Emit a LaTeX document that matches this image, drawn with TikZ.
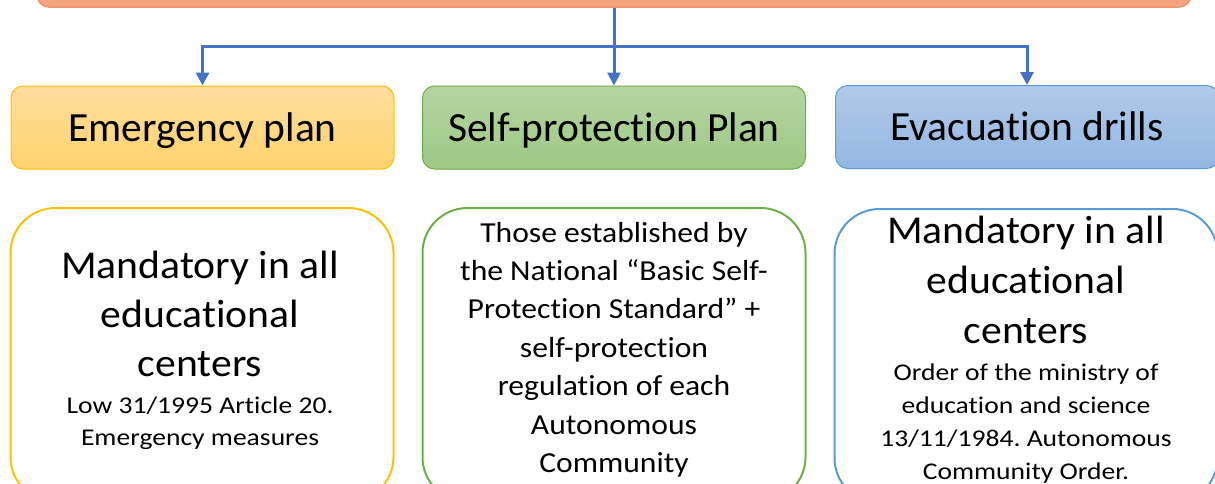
\documentclass[tikz,border=0pt]{standalone}
\usepackage{fontspec}
\setmainfont[Ligatures=NoCommon]{Carlito}
\newfontfamily\bigtextfont[Ligatures=NoCommon, FakeStretch=1.055]{Carlito}
\newfontfamily\midtextfont[Ligatures=NoCommon, FakeStretch=1.09]{Carlito}
\newfontfamily\smalltextfont[Ligatures=NoCommon, FakeStretch=1.15]{Carlito}
\usetikzlibrary{arrows.meta}
\frenchspacing

\definecolor{barfill}{HTML}{F6A47E}
\definecolor{barline}{HTML}{F1936C}
\definecolor{conncol}{HTML}{4472C4}
\definecolor{goldline}{HTML}{FFC000}
\definecolor{goldtop}{HTML}{FFDD9C}
\definecolor{goldbot}{HTML}{FFD36C}
\definecolor{greenline}{HTML}{70AD47}
\definecolor{greentop}{HTML}{B4D6A2}
\definecolor{greenbot}{HTML}{9DC883}
\definecolor{blueline}{HTML}{5B9BD5}
\definecolor{bluetop}{HTML}{B1CAE9}
\definecolor{bluebot}{HTML}{93B7E1}

\tikzset{
  topbar/.style={draw=barline, line width=1.5pt, fill=barfill, rounded corners=12pt,
    minimum width=1154pt, minimum height=60pt, inner sep=0pt},
  header/.style={line width=1pt, rounded corners=12pt, minimum width=383pt,
    minimum height=83pt, inner sep=0pt, text height=27pt, text depth=0pt,
    font=\fontsize{41.5}{50}\selectfont},
  infobox/.style={fill=white, line width=2pt, rounded corners=45pt,
    minimum width=383pt, minimum height=294pt, inner sep=0pt},
  infotext/.style={anchor=base, inner sep=0pt},
  conn/.style={draw=conncol, line width=3pt,
    -{Triangle[width=13pt,length=13pt]}},
}

% centred lines whose first baseline sits on the node's base anchor
\newcommand{\boxlines}[4]{{#1\fontsize{#2}{#3}\selectfont\setlength{\tabcolsep}{0pt}%
  \begin{tabular}[t]{c}#4\end{tabular}}}

\begin{document}
\begin{tikzpicture}[x=1pt,y=-1pt]
\useasboundingbox (0,0) rectangle (1215,483);
\clip (0,0) rectangle (1215,483);

% title bar, running off the top edge
\node[topbar] (top) at (614,-23) {};

% three headings
\node[header, draw=goldline, top color=goldtop, bottom color=goldbot]
  (h1) at (202.5,127.5) {Emergency plan};
\node[header, draw=greenline, top color=greentop, bottom color=greenbot]
  (h2) at (614,127.5) {Self-protection Plan};
\node[header, draw=blueline, top color=bluetop, bottom color=bluebot]
  (h3) at (1027,127) {Evacuation drills};

% connectors
\coordinate (split) at (614,46);
\draw[conn] (top.south) -- (h2.north);
\draw[conn, shorten <=-1.5pt] (split) -| (h1.north);
\draw[conn, shorten <=-1.5pt] (split) -| (h3.north);

% detail boxes, running off the bottom edge
\node[infobox, draw=goldline] (b1) at (202,355) {};
\node[infobox, draw=greenline] (b2) at (614,355) {};
\node[infobox, draw=blueline] (b3) at (1026,356) {};

% texts of the detail boxes
\node[infotext] (t1a) at (200,278)
  {\boxlines{\bigtextfont}{39.5}{49}{Mandatory in all\\educational\\centers}};
\node[infotext] (t1b) at (200,413)
  {\boxlines{\smalltextfont}{24}{32}{Low 31/1995 Article 20.\\Emergency measures}};
\node[infotext] (t2) at (614,242)
  {\boxlines{\midtextfont}{29}{38.4}{Those established by\\the National “Basic Self-\\Protection Standard” +\\self-protection\\regulation of each\\Autonomous\\Community}};
\node[infotext] (t3a) at (1026,243)
  {\boxlines{\bigtextfont}{39.5}{50}{Mandatory in all\\educational\\centers}};
\node[infotext] (t3b) at (1026,380)
  {\boxlines{\smalltextfont}{24}{33}{Order of the ministry of\\education and science\\13/11/1984. Autonomous\\Community Order.}};
\end{tikzpicture}
\end{document}
